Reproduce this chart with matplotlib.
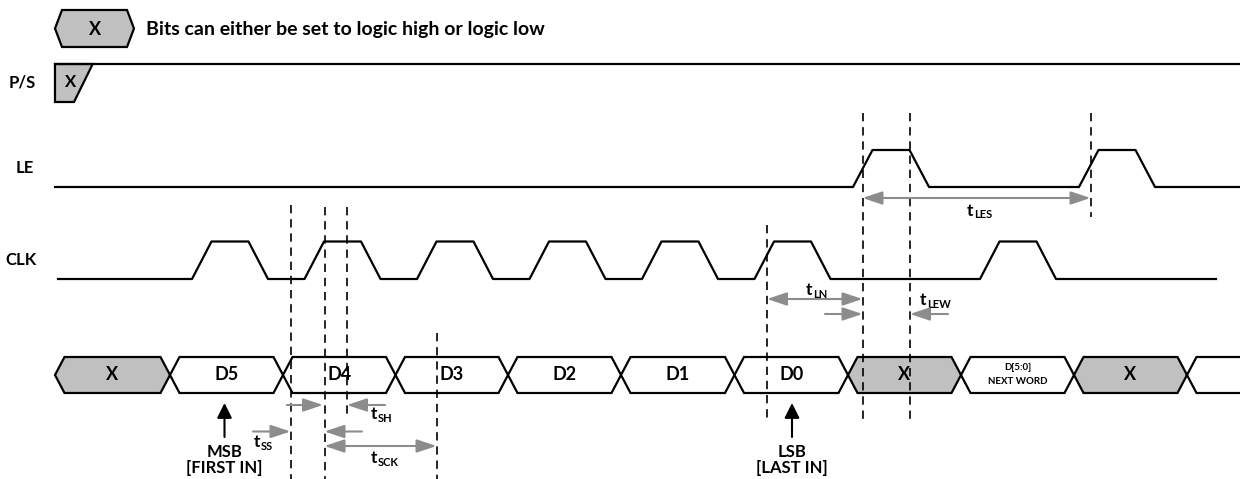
import matplotlib.pyplot as plt
from matplotlib.patches import Polygon

plt.rcParams['font.family'] = ['Lato', 'DejaVu Sans']
plt.rcParams['font.weight'] = 'bold'

# ---- timing data (x axis = time, in drawing units) ----
EDGE = 19.5     # rise / fall time
HIGH = 37       # flat top of a pulse
clk_rise = [192, 304.5, 417, 529.5, 642, 754.5, 980]
le_rise = [853, 1079]

bus_start = 55
bus_cross = [170, 283, 395.5, 508, 621, 734.5, 848, 961, 1074, 1187]
bus_labels = ['X', 'D5', 'D4', 'D3', 'D2', 'D1', 'D0', 'X', 'D[5:0]\nNEXT WORD', 'X']

# dashed markers: (time, top, bottom)
markers = [(291, 205, 479), (324.5, 207, 479), (347, 207, 415), (436.5, 333, 479),
           (767, 225, 423), (862.5, 113, 423), (910, 113, 423), (1090.5, 113, 217)]

# timing arrows: (tail, head, row y, double headed)
arrows = [(862.5, 1090.5, 198, True), (767, 862.5, 299, True),
          (825, 862.5, 314, False), (948, 910, 314, False),
          (287, 323, 405, False), (385, 347, 405, False),
          (253, 290.5, 431.5, False), (362, 324.5, 431.5, False),
          (324.5, 436.5, 446, True)]
# timing names: (main, subscript, x, y)
t_labels = [('t', 'LES', 967, 211), ('t', 'LN', 806, 290), ('t', 'LEW', 920, 300),
            ('t', 'SH', 371, 414), ('t', 'SS', 254, 442), ('t', 'SCK', 371, 458)]
# bit markers: (x, word, note)
bit_marks = [(224.5, 'MSB', '[FIRST IN]'), (792, 'LSB', '[LAST IN]')]

GRAY = '#c0c0c0'
ARROW = '#8c8c8c'

fig = plt.figure(figsize=(12.4, 4.79), dpi=100)
ax = fig.add_axes([0, 0, 1, 1])
ax.set_xlim(0, 1240)
ax.set_ylim(479, 0)
ax.axis('off')


def hexagon(a, b, top, bot, fill, s=9.5):
    mid = (top + bot) / 2
    pts = [(a, mid), (a + s, top), (b - s, top), (b, mid), (b - s, bot), (a + s, bot)]
    ax.add_patch(Polygon(pts, closed=True, fc=fill, ec='black', lw=1.6, zorder=2))


def pulses(x0, x1, rises, lo, hi):
    xs, ys = [x0], [lo]
    for r in rises:
        xs += [r, r + EDGE, r + EDGE + HIGH, r + 2 * EDGE + HIGH]
        ys += [lo, hi, hi, lo]
    xs.append(x1)
    ys.append(lo)
    return xs, ys


# legend
hexagon(55, 134, 10, 47, GRAY, s=7)
ax.text(95, 29, 'X', ha='center', va='center', fontsize=13)
ax.text(146, 29, 'Bits can either be set to logic high or logic low', ha='left',
        va='center', fontsize=14)

# P/S
ax.add_patch(Polygon([(55, 64), (92.7, 64), (74, 102), (55, 102)], closed=True,
                     fc=GRAY, ec='black', lw=1.6, zorder=2))
ax.plot([55, 1240], [64, 64], color='black', lw=1.6, zorder=3)
ax.text(70.5, 82, 'X', ha='center', va='center', fontsize=12)
ax.text(22, 82, 'P/S', ha='center', va='center', fontsize=12)

# LE and CLK
xs, ys = pulses(55, 1240, le_rise, 187, 150)
ax.plot(xs, ys, color='black', lw=1.6, zorder=3)
ax.text(25, 168, 'LE', ha='center', va='center', fontsize=12)

xs, ys = pulses(58, 1216, clk_rise, 279, 241.5)
ax.plot(xs, ys, color='black', lw=1.6, zorder=3)
ax.text(21, 260, 'CLK', ha='center', va='center', fontsize=12)

# data bus
top, bot = 357, 393
edges = [bus_start] + bus_cross
for a, b, lab in zip(edges[:-1], edges[1:], bus_labels):
    hexagon(a, b, top, bot, GRAY if lab == 'X' else 'white')
    c = (a + b) / 2
    if '\n' in lab:
        l1, l2 = lab.split('\n')
        ax.text(c, 368, l1, ha='center', va='center', fontsize=7, zorder=4)
        ax.text(c, 382, l2, ha='center', va='center', fontsize=7, zorder=4)
    else:
        ax.text(c, 375, lab, ha='center', va='center', fontsize=13, zorder=4)
last = bus_cross[-1]
ax.plot([last, last + 9.5, 1240], [375, top, top], color='black', lw=1.6)
ax.plot([last, last + 9.5, 1240], [375, bot, bot], color='black', lw=1.6)

# dashed markers
for x, y0, y1 in markers:
    ax.plot([x, x], [y0, y1], color='black', lw=1.2, ls=(0, (5, 3.5)), zorder=5)

# timing arrows
for x0, x1, y, both in arrows:
    style = '<|-|>' if both else '-|>'
    ax.annotate('', xy=(x1, y), xytext=(x0, y),
                arrowprops=dict(arrowstyle=style + ',head_length=0.6,head_width=0.2',
                                color=ARROW, lw=1.5, shrinkA=0, shrinkB=0,
                                mutation_scale=20), zorder=6)
for main, sub, x, y in t_labels:
    ax.text(x, y, main, ha='left', va='center', fontsize=12.5)
    ax.text(x + 7, y + 4, sub, ha='left', va='center', fontsize=8)

# MSB / LSB pointers
for x, word, note in bit_marks:
    ax.annotate('', xy=(x, 403), xytext=(x, 437),
                arrowprops=dict(arrowstyle='-|>,head_length=0.6,head_width=0.3',
                                color='black', lw=1.5, shrinkA=0, shrinkB=0,
                                mutation_scale=15))
    ax.text(x, 452, word, ha='center', va='center', fontsize=12)
    ax.text(x, 468, note, ha='center', va='center', fontsize=12)

fig.savefig('out.png', dpi=100)
